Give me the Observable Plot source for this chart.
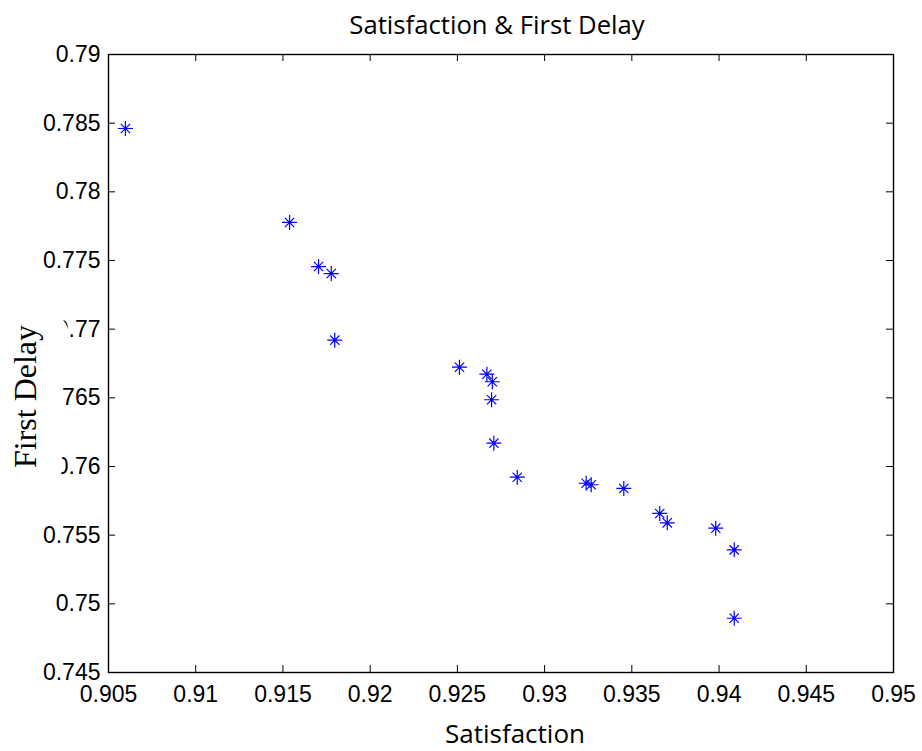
<!DOCTYPE html>
<html><head><meta charset="utf-8">
<script src="https://cdn.jsdelivr.net/npm/d3@7"></script>
<script src="https://cdn.jsdelivr.net/npm/@observablehq/plot@0.6"></script>
<style>body{margin:0;background:#fff}</style>
</head><body><div id="chart"></div>
<script>
const titleText = "Satisfaction & First Delay";
const xLabel = "Satisfaction";
const yLabel = "First Delay";
const satisfaction = [0.90597, 0.91538, 0.91704, 0.91777, 0.91797, 0.92512, 0.92669, 0.92700, 0.92696, 0.92709, 0.92843, 0.93238, 0.93267, 0.93454, 0.93660, 0.93703, 0.93981, 0.94087, 0.94087];
const firstDelay = [0.78461, 0.77777, 0.77456, 0.77405, 0.76920, 0.76723, 0.76672, 0.76617, 0.76486, 0.76170, 0.75922, 0.75878, 0.75867, 0.75840, 0.75658, 0.75590, 0.75551, 0.75393, 0.74895];
const xTicks = [0.905, 0.91, 0.915, 0.92, 0.925, 0.93, 0.935, 0.94, 0.945, 0.95];
const yTicks = [0.745, 0.75, 0.755, 0.76, 0.765, 0.77, 0.775, 0.78, 0.785, 0.79];

const data = satisfaction.map((s, i) => ({s, d: firstDelay[i]}));
const asterisk = {
  draw(ctx, size) {
    const r = Math.sqrt(size / Math.PI), k = r * 0.62;
    ctx.moveTo(-r, 0); ctx.lineTo(r, 0);
    ctx.moveTo(0, -r); ctx.lineTo(0, r);
    ctx.moveTo(-k, -k); ctx.lineTo(k, k);
    ctx.moveTo(-k, k); ctx.lineTo(k, -k);
  }
};
const W = 922, H = 751, mL = 108, mR = 29, mT = 54, mB = 79;
const iw = W - mL - mR, ih = H - mT - mB, tl = 7;
const fmt = d => String(+d.toFixed(3));

const chart = Plot.plot({
  width: W, height: H, marginLeft: mL, marginRight: mR, marginTop: mT, marginBottom: mB,
  x: {domain: [0.905, 0.95]},
  y: {domain: [0.745, 0.79]},
  style: {fontFamily: "Liberation Sans", fontSize: "23px", color: "#000", background: "#fff"},
  marks: [
    Plot.tickX(xTicks, {x: d => d, insetTop: ih - tl, stroke: "#000", strokeWidth: 1}),
    Plot.tickX(xTicks, {x: d => d, insetBottom: ih - tl, stroke: "#000", strokeWidth: 1}),
    Plot.tickY(yTicks, {y: d => d, insetRight: iw - tl, stroke: "#000", strokeWidth: 1}),
    Plot.tickY(yTicks, {y: d => d, insetLeft: iw - tl, stroke: "#000", strokeWidth: 1}),
    Plot.frame({stroke: "#000", strokeWidth: 1.4}),
    Plot.axisX({ticks: xTicks, tickSize: 0, tickPadding: 13, tickFormat: fmt, label: null, fontSize: 23}),
    Plot.axisY({ticks: yTicks, tickSize: 0, tickPadding: 8, tickFormat: fmt, label: null, fontSize: 23}),
    Plot.dot(data, {x: "s", y: "d", r: 7.5, symbol: asterisk, stroke: "#0000ff", strokeWidth: 1.2, fill: "none"}),
    Plot.text([titleText], {text: d => d, frameAnchor: "top", lineAnchor: "middle", textAnchor: "middle", dx: -4, dy: -29,
      fontFamily: "Open Sans", fontSize: 25.7, fill: "#000"}),
    Plot.text([xLabel], {text: d => d, frameAnchor: "bottom", lineAnchor: "middle", textAnchor: "middle", dx: 14, dy: 62,
      fontFamily: "Open Sans", fontSize: 26, fill: "#000"}),
    Plot.text([yLabel], {text: d => d, frameAnchor: "left", lineAnchor: "middle", textAnchor: "middle", rotate: -90, dx: -83, dy: 33,
      fontFamily: "Liberation Serif", fontSize: 32, fill: "#000",
      stroke: "#fff", strokeWidth: 52, paintOrder: "stroke", strokeLinejoin: "round"})
  ]
});
document.getElementById("chart").append(chart);
</script>
</body></html>
